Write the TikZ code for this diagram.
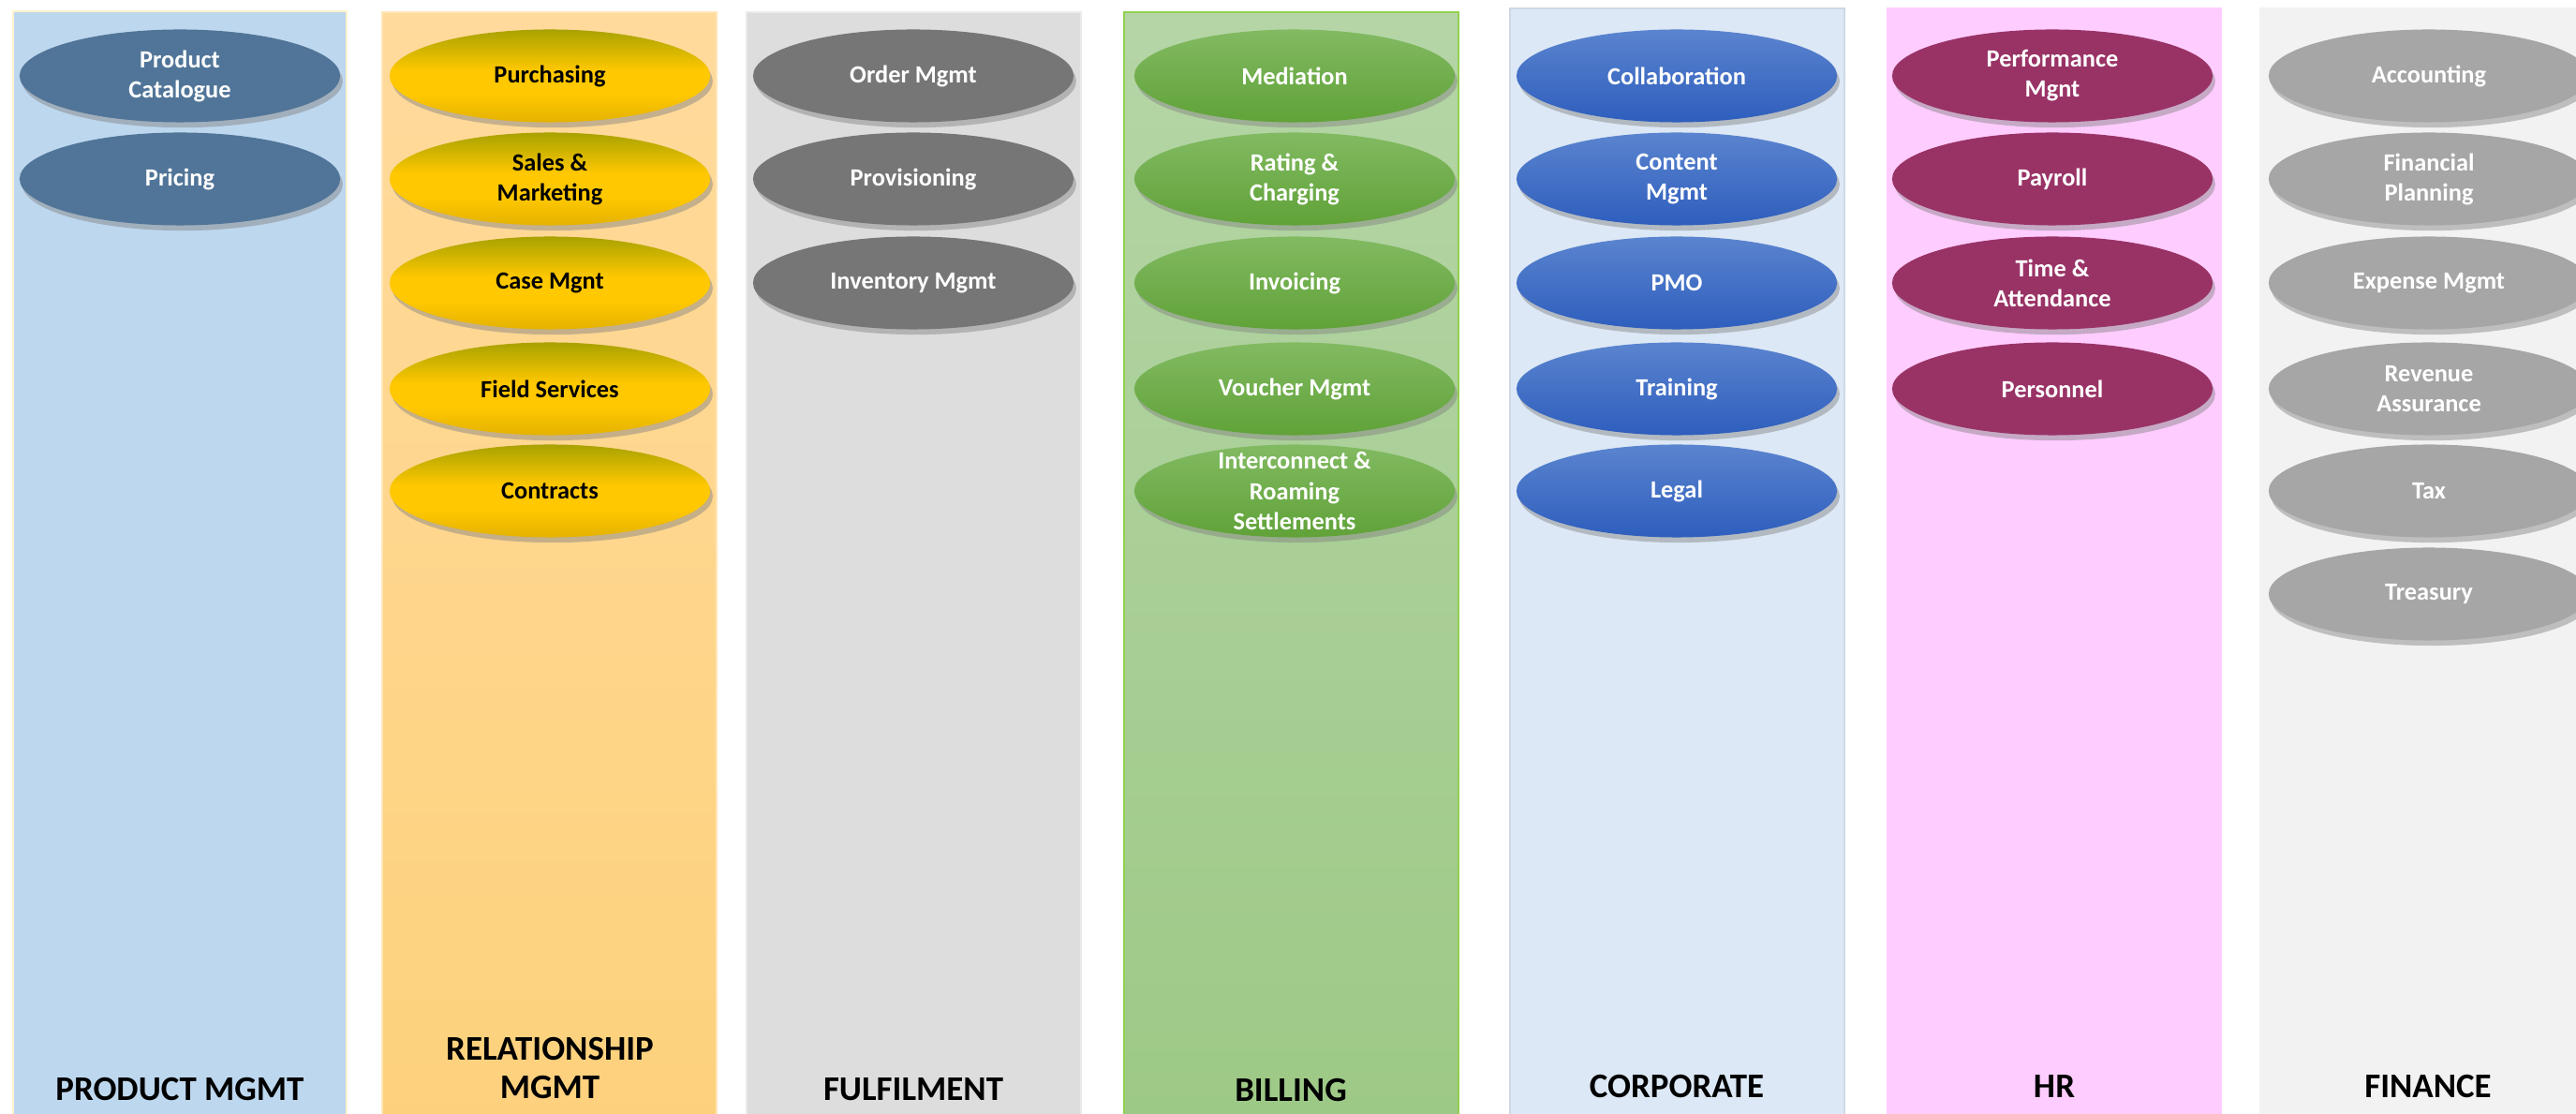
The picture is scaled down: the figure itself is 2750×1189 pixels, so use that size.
\documentclass[tikz,border=0pt]{standalone}
\usepackage{fontspec}
\setmainfont{Carlito}
\usepackage{tikz}
\usepackage{xcolor}
\usetikzlibrary{shapes.geometric,shadows}
\definecolor{vprodbg}{HTML}{BDD7EE}
\definecolor{vprodedge}{HTML}{FFF2CC}
\definecolor{vprodfill}{HTML}{517598}
\definecolor{vrelbgtop}{HTML}{FFDA9C}
\definecolor{vrelbgbot}{HTML}{FDD17C}
\definecolor{vreledge}{HTML}{FFE6B8}
\definecolor{vgoldtop}{HTML}{A8A200}
\definecolor{vgoldmid}{HTML}{FFC800}
\definecolor{vgoldbot}{HTML}{E4B200}
\definecolor{vfulbg}{HTML}{DDDDDD}
\definecolor{vfuledge}{HTML}{EAEAEA}
\definecolor{vfulfill}{HTML}{767676}
\definecolor{vbillbgtop}{HTML}{B5D5A6}
\definecolor{vbillbgbot}{HTML}{9DC986}
\definecolor{vbilledge}{HTML}{92D050}
\definecolor{vgreentop}{HTML}{82BA62}
\definecolor{vgreenbot}{HTML}{60A238}
\definecolor{vcorpbg}{HTML}{DCE8F5}
\definecolor{vcorpedge}{HTML}{CFD8E2}
\definecolor{vbluetop}{HTML}{5B84CF}
\definecolor{vbluebot}{HTML}{2E5EBD}
\definecolor{vhrbg}{HTML}{FFCCFF}
\definecolor{vhrfill}{HTML}{993366}
\definecolor{vfinbg}{HTML}{F2F2F2}
\definecolor{vfinfill}{HTML}{A6A6A6}
\pgfdeclareverticalshading{vgoldshade}{100bp}{color(0bp)=(vgoldbot); color(25bp)=(vgoldbot); color(40bp)=(vgoldmid); color(53bp)=(vgoldmid); color(75bp)=(vgoldtop); color(100bp)=(vgoldtop)}

\begin{document}
\begin{tikzpicture}[x=0.01cm, y=-0.01cm,
		pilltext/.style={align=center, text=white, font=\fontsize{7.5}{9.1}\selectfont\bfseries},
		pill/.style={ellipse, minimum width=3.42cm, minimum height=0.99cm, inner sep=0pt, pilltext,
			drop shadow={shadow xshift=0.8pt, shadow yshift=-1.6pt, opacity=.45}},
		goldpill/.style={pill, shading=vgoldshade, text=black},
		greenpill/.style={pill, top color=vgreentop, bottom color=vgreenbot},
		bluepill/.style={pill, top color=vbluetop, bottom color=vbluebot},
		heading/.style={anchor=base, align=center, inner sep=0pt, font=\fontsize{10.5}{11.8}\selectfont\bfseries}]
		\useasboundingbox (0,0) rectangle (2750,1189);
		\clip (0,0) rectangle (2750,1189);
		% columns
		\draw[color=vprodedge, fill=vprodbg, line width=.8pt] (14,12) rectangle (370,1195);
		\draw[color=vreledge, top color=vrelbgtop, bottom color=vrelbgbot, line width=.8pt] (408,13) rectangle (765,1195);
		\draw[color=vfuledge, fill=vfulbg, line width=.8pt] (797,13) rectangle (1154,1195);
		\draw[color=vbilledge, top color=vbillbgtop, bottom color=vbillbgbot, line width=.6pt] (1200,13) rectangle (1557,1195);
		\draw[color=vcorpedge, fill=vcorpbg, line width=.6pt] (1612,9) rectangle (1969,1195);
		\fill[color=vhrbg] (2014,8) rectangle (2372,1195);
		\fill[color=vfinbg] (2412,8) rectangle (2768,1195);
		% product mgmt
		\node[pill, fill=vprodfill] (prodcat) at (192,81) {Product\\Catalogue};
		\node[pill, fill=vprodfill] (pricing) at (192,191) {Pricing};
		% relationship mgmt
		\node[goldpill] (purchasing) at (587,81) {Purchasing};
		\node[goldpill] (salesmkt) at (587,191) {Sales \&\\Marketing};
		\node[goldpill] (casemgnt) at (587,302) {Case Mgnt};
		\node[goldpill] (fieldsvc) at (587,415) {Field Services};
		\node[goldpill] (contracts) at (587,524) {Contracts};
		% fulfilment
		\node[pill, fill=vfulfill] (ordermgmt) at (975,81) {Order Mgmt};
		\node[pill, fill=vfulfill] (provisioning) at (975,191) {Provisioning};
		\node[pill, fill=vfulfill] (inventory) at (975,302) {Inventory Mgmt};
		% billing
		\node[greenpill] (mediation) at (1382,81) {Mediation};
		\node[greenpill] (rating) at (1382,191) {Rating \&\\Charging};
		\node[greenpill] (invoicing) at (1382,302) {Invoicing};
		\node[greenpill] (voucher) at (1382,415) {Voucher Mgmt};
		\node[greenpill, label={[pilltext]center:Interconnect \&\\Roaming\\Settlements}] (interconnect) at (1382,524) {};
		% corporate
		\node[bluepill] (collab) at (1790,81) {Collaboration};
		\node[bluepill] (content) at (1790,191) {Content\\Mgmt};
		\node[bluepill] (pmo) at (1790,302) {PMO};
		\node[bluepill] (training) at (1790,415) {Training};
		\node[bluepill] (legal) at (1790,524) {Legal};
		% hr
		\node[pill, fill=vhrfill] (perfmgnt) at (2191,81) {Performance\\Mgnt};
		\node[pill, fill=vhrfill] (payroll) at (2191,191) {Payroll};
		\node[pill, fill=vhrfill] (timeatt) at (2191,302) {Time \&\\Attendance};
		\node[pill, fill=vhrfill] (personnel) at (2191,415) {Personnel};
		% finance
		\node[pill, fill=vfinfill] (accounting) at (2593,81) {Accounting};
		\node[pill, fill=vfinfill] (finplan) at (2593,191) {Financial\\Planning};
		\node[pill, fill=vfinfill] (expense) at (2593,302) {Expense Mgmt};
		\node[pill, fill=vfinfill] (revenue) at (2593,415) {Revenue\\Assurance};
		\node[pill, fill=vfinfill] (tax) at (2593,524) {Tax};
		\node[pill, fill=vfinfill] (treasury) at (2593,634) {Treasury};
		% headings
		\node[heading] (prodhead) at (192,1175) {PRODUCT MGMT};
		\node[heading] (relhead) at (587,1173) {RELATIONSHIP\\MGMT};
		\node[heading] (fulhead) at (975,1175) {FULFILMENT};
		\node[heading] (billhead) at (1378,1176) {BILLING};
		\node[heading] (corphead) at (1790,1172) {CORPORATE};
		\node[heading] (hrhead) at (2193,1172) {HR};
		\node[heading] (finhead) at (2592,1172) {FINANCE};
	\end{tikzpicture}
\end{document}
